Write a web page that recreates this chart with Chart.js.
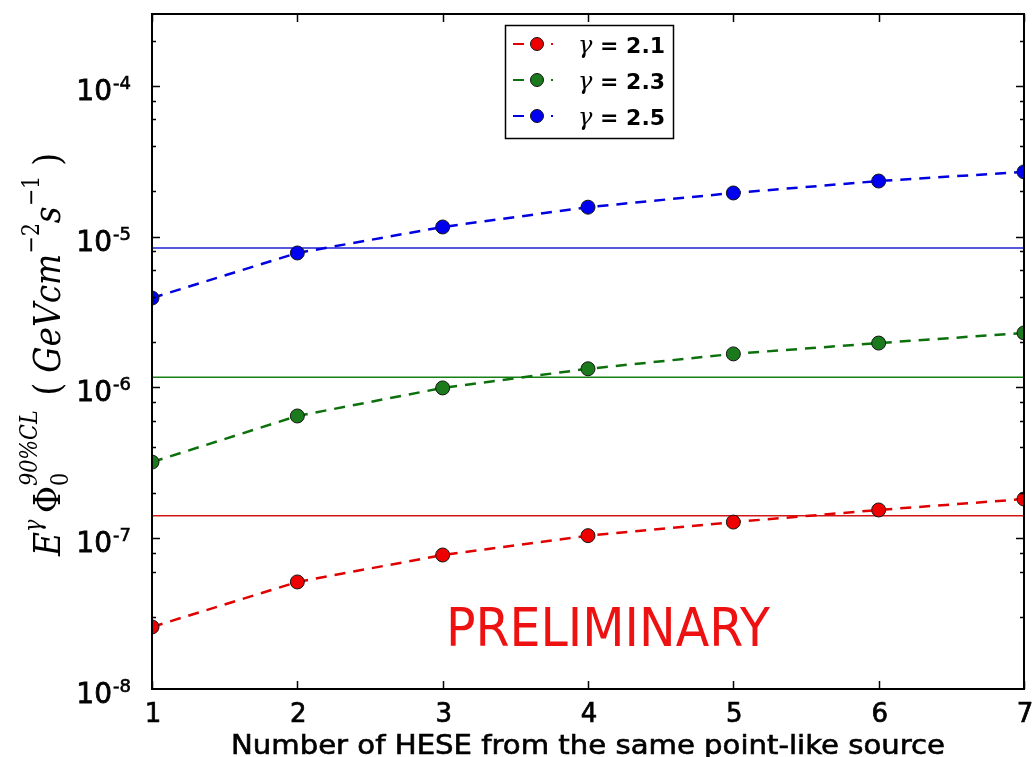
<!DOCTYPE html>
<html>
<head>
<meta charset="utf-8">
<script src="https://cdn.jsdelivr.net/npm/chart.js@4.4.1/dist/chart.umd.min.js"></script>
<style>
  html, body { margin: 0; padding: 0; background: #fff; }
  #wrap { width: 1032px; height: 757px; }
</style>
</head>
<body>
<div id="wrap"><canvas id="limits" width="1032" height="757"></canvas></div>
<script>
// HESE events attributed to the same point-like source
const nEvents = [1, 2, 3, 4, 5, 6, 7];

// 90% CL flux limits, one list per spectral index
const limitG21 = [2.58e-8, 5.13e-8, 7.74e-8, 1.04e-7, 1.28e-7, 1.54e-7, 1.82e-7];
const limitG23 = [3.2e-7, 6.47e-7, 9.93e-7, 1.33e-6, 1.67e-6, 1.97e-6, 2.30e-6];
const limitG25 = [3.92e-6, 7.8e-6, 1.16e-5, 1.57e-5, 1.95e-5, 2.34e-5, 2.69e-5];

// solid reference levels
const refG21 = 1.41e-7;
const refG23 = 1.17e-6;
const refG25 = 8.42e-6;

const gammaLabels = ['2.1', '2.3', '2.5'];
const xTickLabels = [1, 2, 3, 4, 5, 6, 7];
const yDecades = [-8, -7, -6, -5, -4];

const xTitle = 'Number of HESE from the same point-like source';
const stamp = 'PRELIMINARY';

const SANS = '"DejaVu Sans", sans-serif';
const SERIF = '"DejaVu Serif", serif';

function limitSet(gamma, values, line, dot) {
  return {
    label: gamma,
    isLimit: true,
    data: nEvents.map((n, i) => ({ x: n, y: values[i] })),
    borderColor: line,
    borderWidth: 2.5,
    borderDash: [11, 8],
    pointRadius: 7,
    pointHoverRadius: 7,
    pointBackgroundColor: dot,
    pointBorderColor: '#151515',
    pointBorderWidth: 1,
    tension: 0,
    clip: 0,
    order: 1
  };
}

function refSet(value, color) {
  return {
    label: 'ref',
    data: [{ x: 1, y: value }, { x: 7, y: value }],
    borderColor: color,
    borderWidth: 1.6,
    pointRadius: 0,
    clip: 0,
    order: 2
  };
}

// text with a hairline outline so it reads a little heavier
function heavyText(ctx, txt, x, y, lw) {
  ctx.fillText(txt, x, y);
  ctx.lineWidth = lw;
  ctx.strokeText(txt, x, y);
}

// axes frame, ticks, labels, titles, legend and stamp
const decor = {
  id: 'decor',
  afterDraw(chart) {
    const ctx = chart.ctx;
    const a = chart.chartArea;
    const xs = chart.scales.x;
    const ys = chart.scales.y;

    ctx.save();
    ctx.strokeStyle = '#000';
    ctx.fillStyle = '#000';

    // y ticks (major + minor, inward on both sides)
    ctx.lineWidth = 1.5;
    ys.ticks.forEach(t => {
      const lg = Math.log10(t.value);
      const mant = t.value / Math.pow(10, Math.floor(lg + 1e-9));
      const r = Math.round(mant);
      if (Math.abs(mant - r) > 1e-6) return;
      const py = Math.round(ys.getPixelForValue(t.value)) + 0.5;
      if (py < a.top + 1 || py > a.bottom - 1) return;
      const len = r === 1 ? 8 : 4;
      ctx.beginPath();
      ctx.moveTo(a.left, py); ctx.lineTo(a.left + len, py);
      ctx.moveTo(a.right, py); ctx.lineTo(a.right - len, py);
      ctx.stroke();
    });

    // x ticks top and bottom
    xTickLabels.forEach(v => {
      const px = Math.round(xs.getPixelForValue(v)) + 0.5;
      ctx.beginPath();
      ctx.moveTo(px, a.bottom); ctx.lineTo(px, a.bottom - 8);
      ctx.moveTo(px, a.top); ctx.lineTo(px, a.top + 8);
      ctx.stroke();
    });

    // frame
    ctx.lineWidth = 2;
    ctx.strokeRect(a.left, a.top, a.right - a.left, a.bottom - a.top);

    // x tick labels
    ctx.font = `26px ${SANS}`;
    ctx.textAlign = 'center';
    ctx.textBaseline = 'alphabetic';
    xTickLabels.forEach(v => {
      heavyText(ctx, String(v), xs.getPixelForValue(v) + 1, a.bottom + 33, 0.7);
    });

    // y tick labels 10^n
    yDecades.forEach(e => {
      const py = ys.getPixelForValue(Math.pow(10, e));
      ctx.font = `28px ${SANS}`;
      ctx.textAlign = 'right';
      heavyText(ctx, '10', 112, py + 14, 0.8);
      ctx.font = `18px ${SANS}`;
      ctx.textAlign = 'left';
      heavyText(ctx, String(e), 113, py + 3, 0.6);
    });

    // x title, stretched to the axis span it covers
    ctx.font = `26px ${SANS}`;
    ctx.textAlign = 'center';
    const tw = ctx.measureText(xTitle).width;
    ctx.save();
    ctx.translate((a.left + a.right) / 2, 754);
    ctx.scale(714 / tw, 1);
    heavyText(ctx, xTitle, 0, 0, 0.6);
    ctx.restore();

    drawYTitle(ctx);
    drawLegend(ctx, chart);

    // stamp
    ctx.fillStyle = '#ee1111';
    ctx.font = `53px ${SANS}`;
    ctx.textAlign = 'left';
    const w = ctx.measureText(stamp).width;
    ctx.save();
    ctx.translate(446, 646);
    ctx.scale(324 / w, 1);
    ctx.fillText(stamp, 0, 0);
    ctx.restore();

    ctx.restore();
  }
};

function drawYTitle(ctx) {
  const s = 38;
  const big = `italic ${s}px ${SERIF}`;
  const up = `${s}px ${SERIF}`;
  const small = `italic ${Math.round(s * 0.62)}px ${SERIF}`;
  const smallUp = `${Math.round(s * 0.62)}px ${SERIF}`;
  const parts = [
    { t: 'E', f: big, dy: 0 },
    { t: 'γ', f: small, dy: -0.5 * s },
    { gap: 0.2 * s },
    { t: 'Φ', f: up, dy: 0 },
    { stack: [{ t: '0', f: smallUp, dy: 0.22 * s }, { t: '90%CL', f: small, dy: -0.6 * s }] },
    { gap: 0.45 * s },
    { t: '(', f: up, dy: 0 },
    { gap: 0.3 * s },
    { t: 'GeVcm', f: big, dy: 0 },
    { t: '−2', f: smallUp, dy: -0.55 * s },
    { t: 's', f: big, dy: 0 },
    { t: '−1', f: smallUp, dy: -0.55 * s },
    { gap: 0.3 * s },
    { t: ')', f: up, dy: 0 }
  ];
  const width = p => {
    if (p.gap) return p.gap;
    if (p.stack) return Math.max(...p.stack.map(width));
    ctx.font = p.f;
    return ctx.measureText(p.t).width;
  };
  const total = parts.reduce((sum, p) => sum + width(p), 0);

  ctx.save();
  ctx.fillStyle = '#000';
  ctx.textAlign = 'left';
  ctx.textBaseline = 'alphabetic';
  ctx.translate(60, 556);
  ctx.rotate(-Math.PI / 2);
  ctx.scale(403 / total, 1);
  let x = 0;
  parts.forEach(p => {
    if (p.gap) { x += p.gap; return; }
    const items = p.stack || [p];
    items.forEach(it => {
      ctx.font = it.f;
      ctx.fillText(it.t, x, it.dy);
    });
    x += width(p);
  });
  ctx.restore();
}

function drawLegend(ctx, chart) {
  const box = { x: 505.5, y: 25.5, w: 168, h: 113 };
  ctx.save();
  ctx.fillStyle = '#fff';
  ctx.fillRect(box.x, box.y, box.w, box.h);
  ctx.strokeStyle = '#000';
  ctx.lineWidth = 1.5;
  ctx.strokeRect(box.x, box.y, box.w, box.h);

  const rows = [44, 80, 116];
  chart.data.datasets.filter(d => d.isLimit).forEach((d, i) => {
    const y = rows[i];
    ctx.strokeStyle = d.borderColor;
    ctx.lineWidth = 2;
    ctx.setLineDash(d.borderDash);
    ctx.beginPath();
    ctx.moveTo(513, y); ctx.lineTo(553, y);
    ctx.stroke();
    ctx.setLineDash([]);
    ctx.beginPath();
    ctx.arc(537, y, d.pointRadius - 0.5, 0, Math.PI * 2);
    ctx.fillStyle = d.pointBackgroundColor;
    ctx.fill();
    ctx.lineWidth = 1;
    ctx.strokeStyle = d.pointBorderColor;
    ctx.stroke();

    ctx.fillStyle = '#000';
    ctx.strokeStyle = '#000';
    ctx.textAlign = 'left';
    ctx.textBaseline = 'alphabetic';
    ctx.font = `italic 24px ${SERIF}`;
    ctx.fillText('γ', 578, y + 9);
    ctx.font = `bold 22px ${SANS}`;
    ctx.fillText('= ' + d.label, 600, y + 9);
  });
  ctx.restore();
}

new Chart(document.getElementById('limits'), {
  type: 'line',
  data: {
    datasets: [
      limitSet(gammaLabels[0], limitG21, '#e00000', '#ee0000'),
      limitSet(gammaLabels[1], limitG23, '#0c700c', '#1b7a1b'),
      limitSet(gammaLabels[2], limitG25, '#0000e0', '#0000f0'),
      refSet(refG21, '#d01818'),
      refSet(refG23, '#168016'),
      refSet(refG25, '#2020d0')
    ]
  },
  options: {
    responsive: false,
    devicePixelRatio: 1,
    animation: false,
    layout: { padding: { left: 152, top: 14, right: 4, bottom: 68 } },
    scales: {
      x: { type: 'linear', min: 1, max: 7, display: false },
      y: { type: 'logarithmic', min: 1e-8, max: 3e-4, display: false }
    },
    plugins: {
      legend: { display: false },
      tooltip: { enabled: false }
    }
  },
  plugins: [decor]
});
</script>
</body>
</html>
